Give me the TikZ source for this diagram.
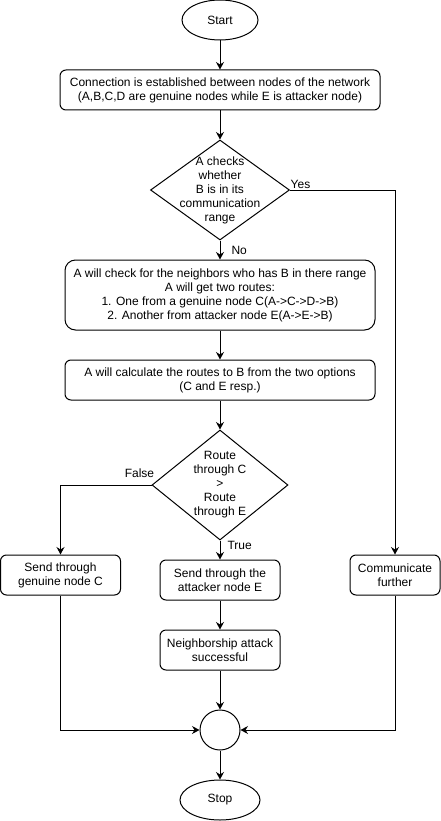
\documentclass[tikz,border=0pt]{standalone}
\usepackage{fontspec}
\setmainfont{Liberation Sans}
\usetikzlibrary{positioning, shapes.geometric, arrows.meta}
\tikzstyle{Arrow} = [
%Connector with a block tip:
line width=1pt,
-{Stealth[length=7.5pt, width=8pt, inset=2.5pt]}
]

\begin{document}
\begin{tikzpicture}[x=1pt, y=-1pt,
			every node/.style = {font=\fontsize{12}{14}\selectfont, text=black},
			terminal/.style = {ellipse, draw, line width=1pt, minimum width=80pt, minimum height=40pt},
			process/.style = {rectangle, rounded corners=6pt, draw, line width=1pt, align=center, inner sep=0pt, minimum height=40pt},
			decision/.style = {diamond, draw, line width=1pt, inner sep=0pt},
			junction/.style = {circle, draw, line width=1pt, minimum size=40pt, inner sep=0pt},
			edgelabel/.style = {inner sep=1pt},
		]
		\useasboundingbox (0,0) rectangle (441,821);

		\node[terminal, minimum width=76pt](start) at (220,20){Start};
		\node[process, minimum width=320pt](connect) at (220,90){Connection is established between nodes of the network\\(A,B,C,D are genuine nodes while E is attacker node)};
		\node[decision, minimum width=139pt, minimum height=100pt, label={[align=center]center:A checks\\whether\\B is in its\\communication\\range}](inrange) at (220,190){};
		\node[process, rounded corners=10.5pt, minimum width=310pt, minimum height=70pt](routes) at (220,295){A will check for the neighbors who has B in there range\\A will get two routes:\\1. One from a genuine node C(A->C->D->B)\\2. Another from attacker node E(A->E->B)};
		\node[process, minimum width=310pt](calc) at (220,380){A will calculate the routes to B from the two options\\(C and E resp.)};
		\node[decision, minimum width=136pt, minimum height=110pt, label={[align=center]center:Route\\through C\\>\\Route\\through E}](compare) at (220,485){};
		\node[process, minimum width=120pt](viaC) at (60.5,575){Send through\\genuine node C};
		\node[process, minimum width=120pt](viaE) at (220,580){Send through the\\attacker node E};
		\node[process, minimum width=120pt](attack) at (220,650){Neighborship attack\\successful};
		\node[process, minimum width=90pt](comm) at (395,575){Communicate\\further};
		\node[junction](merge) at (220,730){};
		\node[terminal](stop) at (220,800){Stop};

		\draw[Arrow](start)--(connect);
		\draw[Arrow](connect)--(inrange);
		\draw[Arrow](inrange.east)-|node[edgelabel, pos=0.05, above]{Yes}(comm.north);
		\draw[Arrow](inrange.south)--node[edgelabel, right=10pt]{No}(routes.north);
		\draw[Arrow](routes)--(calc);
		\draw[Arrow](calc)--(compare);
		\draw[Arrow](compare.west)-|node[edgelabel, pos=0.066, above=6pt]{False}(viaC.north);
		\draw[Arrow](compare.south)--node[edgelabel, pos=0.25, right=6pt]{True}(viaE.north);
		\draw[Arrow](viaE)--(attack);
		\draw[Arrow](attack)--(merge);
		\draw[Arrow](viaC.south)|-(merge.west);
		\draw[Arrow](comm.south)|-(merge.east);
		\draw[Arrow](merge)--(stop);

	\end{tikzpicture}
\end{document}
